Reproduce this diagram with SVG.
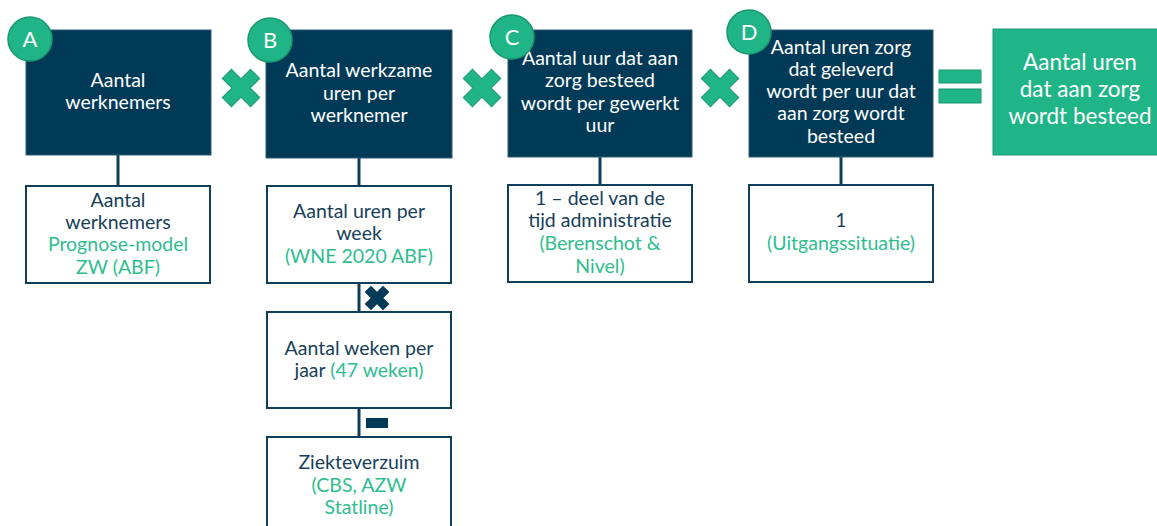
<svg xmlns="http://www.w3.org/2000/svg" width="1157" height="526" viewBox="0 0 1157 526">
<defs>
<style>
.dk{fill:#003a57;stroke:#2f5a73;stroke-width:1}
.wb{fill:#ffffff;stroke:#0d3f5a;stroke-width:2}
.gb{fill:#1fb587;stroke:#1a9c74;stroke-width:1}
.circ{fill:#1fb587;stroke:#19986f;stroke-width:1.5}
.lt{fill:#ffffff;font-family:Lato,"Noto Sans",sans-serif;font-size:19.5px;text-anchor:middle}
.big{fill:#ffffff;font-family:Lato,"Noto Sans",sans-serif;font-size:22.5px;text-anchor:middle}
.let{fill:#ffffff;font-family:Lato,"Noto Sans",sans-serif;font-size:22px;text-anchor:middle}
.st{fill:#183f5a;font-family:Lato,"Noto Sans",sans-serif;font-size:19.5px;text-anchor:middle}
.g{fill:#2ebd8f}
.con{stroke:#0d3f5a;stroke-width:3;fill:none}
</style>
<polygon id="crossG" points="-6.5,-20 6.5,-20 6.5,-6.5 20,-6.5 20,6.5 6.5,6.5 6.5,20 -6.5,20 -6.5,6.5 -20,6.5 -20,-6.5 -6.5,-6.5" transform="rotate(45)" fill="#1fb587" stroke="#19986f" stroke-width="1"/>
<polygon id="crossD" points="-4.5,-13 4.5,-13 4.5,-4.5 13,-4.5 13,4.5 4.5,4.5 4.5,13 -4.5,13 -4.5,4.5 -13,4.5 -13,-4.5 -4.5,-4.5" transform="rotate(45)" fill="#003a57"/>
</defs>

<g id="connectors">
<line class="con" x1="118" y1="155" x2="118" y2="186"/>
<line class="con" x1="359" y1="158" x2="359" y2="186"/>
<line class="con" x1="359" y1="283" x2="359" y2="312"/>
<line class="con" x1="359" y1="408" x2="359" y2="437"/>
<line class="con" x1="600" y1="157" x2="600" y2="185"/>
<line class="con" x1="841" y1="157" x2="841" y2="185"/>
</g>

<g id="operators">
<use href="#crossG" x="241" y="88"/>
<use href="#crossG" x="482" y="88"/>
<use href="#crossG" x="720" y="88"/>
<rect x="939" y="70" width="42" height="13" fill="#1fb587" stroke="#19986f" stroke-width="1"/>
<rect x="939" y="89" width="42" height="14" fill="#1fb587" stroke="#19986f" stroke-width="1"/>
<use href="#crossD" x="377" y="298"/>
<rect x="366" y="418" width="22" height="10" fill="#003a57"/>
</g>

<g id="nodeA">
<rect class="dk" x="26" y="30" width="185" height="125"/>
<text class="lt" x="118" y="87">Aantal</text>
<text class="lt" x="118" y="109">werknemers</text>
<circle class="circ" cx="30" cy="39" r="22"/>
<text class="let" x="30" y="47">A</text>
</g>

<g id="nodeB">
<rect class="dk" x="266" y="30" width="186" height="128"/>
<text class="lt" x="359" y="77">Aantal werkzame</text>
<text class="lt" x="359" y="100">uren per</text>
<text class="lt" x="359" y="122">werknemer</text>
<circle class="circ" cx="270" cy="40" r="22"/>
<text class="let" x="270" y="48">B</text>
</g>

<g id="nodeC">
<rect class="dk" x="508" y="30" width="184" height="127"/>
<text class="lt" x="600" y="65">Aantal uur dat aan</text>
<text class="lt" x="600" y="87">zorg besteed</text>
<text class="lt" x="600" y="110">wordt per gewerkt</text>
<text class="lt" x="600" y="132">uur</text>
<circle class="circ" cx="512" cy="37" r="22"/>
<text class="let" x="512" y="45">C</text>
</g>

<g id="nodeD">
<rect class="dk" x="749" y="30" width="184" height="127"/>
<text class="lt" x="841" y="54">Aantal uren zorg</text>
<text class="lt" x="841" y="76">dat geleverd</text>
<text class="lt" x="841" y="98">wordt per uur dat</text>
<text class="lt" x="841" y="120">aan zorg wordt</text>
<text class="lt" x="841" y="143">besteed</text>
<circle class="circ" cx="749" cy="32" r="22"/>
<text class="let" x="749" y="40">D</text>
</g>

<g id="result">
<rect class="gb" x="993" y="29" width="170" height="126"/>
<text class="big" x="1080" y="70">Aantal uren</text>
<text class="big" x="1080" y="97">dat aan zorg</text>
<text class="big" x="1080" y="124">wordt besteed</text>
</g>

<g id="subA">
<rect class="wb" x="26" y="186" width="184" height="97"/>
<text class="st" x="118" y="207">Aantal</text>
<text class="st" x="118" y="229">werknemers</text>
<text class="st g" x="118" y="251">Prognose-model</text>
<text class="st g" x="118" y="274">ZW (ABF)</text>
</g>

<g id="subB1">
<rect class="wb" x="267" y="186" width="184" height="97"/>
<text class="st" x="359" y="218">Aantal uren per</text>
<text class="st" x="359" y="240">week</text>
<text class="st g" x="359" y="263">(WNE 2020 ABF)</text>
</g>

<g id="subB2">
<rect class="wb" x="267" y="312" width="184" height="96"/>
<text class="st" x="359" y="355">Aantal weken per</text>
<text class="st" x="359" y="377">jaar <tspan class="g">(47 weken)</tspan></text>
</g>

<g id="subB3">
<rect class="wb" x="267" y="437" width="184" height="100"/>
<text class="st" x="359" y="469">Ziekteverzuim</text>
<text class="st g" x="359" y="492">(CBS, AZW</text>
<text class="st g" x="359" y="514">Statline)</text>
</g>

<g id="subC">
<rect class="wb" x="508" y="185" width="184" height="97"/>
<text class="st" x="600" y="205">1 – deel van de</text>
<text class="st" x="600" y="227">tijd administratie</text>
<text class="st g" x="600" y="250">(Berenschot &amp;</text>
<text class="st g" x="600" y="273">Nivel)</text>
</g>

<g id="subD">
<rect class="wb" x="749" y="185" width="184" height="97"/>
<text class="st" x="841" y="227">1</text>
<text class="st g" x="841" y="250">(Uitgangssituatie)</text>
</g>
</svg>
